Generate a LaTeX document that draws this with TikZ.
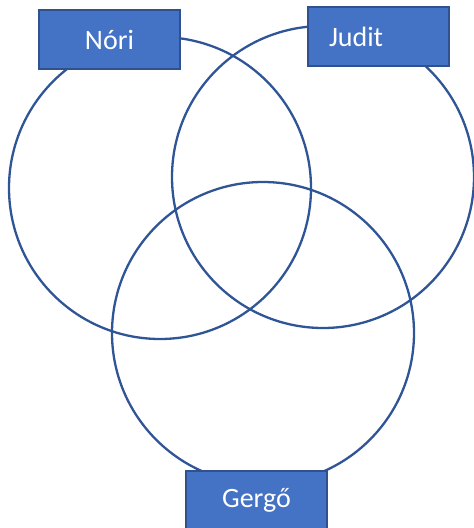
\documentclass[tikz,border=0pt]{standalone}
\usepackage{fontspec}
\setmainfont{Carlito}
\usepackage{tikz}
\definecolor{boxblue}{HTML}{4472C4}
\definecolor{edgeblue}{HTML}{2F528F}
\definecolor{ringblue}{HTML}{2F5597}

\begin{document}
\begin{tikzpicture}[x=1pt,y=-1pt,
  ring/.style={draw=ringblue,line width=2.3pt,circle,minimum size=302pt,inner sep=0pt},
  namebox/.style={draw=edgeblue,line width=1.4pt,fill=boxblue,text=white,minimum width=141pt,minimum height=59pt,inner sep=0pt,font=\fontsize{28}{32}\selectfont}]
\useasboundingbox (0,0) rectangle (474,528);
\node[ring] (nori_set) at (160,188) {};
\node[ring] (judit_set) at (323,177) {};
\node[ring] (gergo_set) at (263,333) {};
\node[namebox] (nori) at (109.5,39.5) {Nóri};
\node[namebox,inner xsep=21pt,text width=99pt,align=left] (judit) at (378.5,36.5) {Judit};
\node[namebox] (gergo) at (256.5,500.5) {Gergő};
\end{tikzpicture}
\end{document}
